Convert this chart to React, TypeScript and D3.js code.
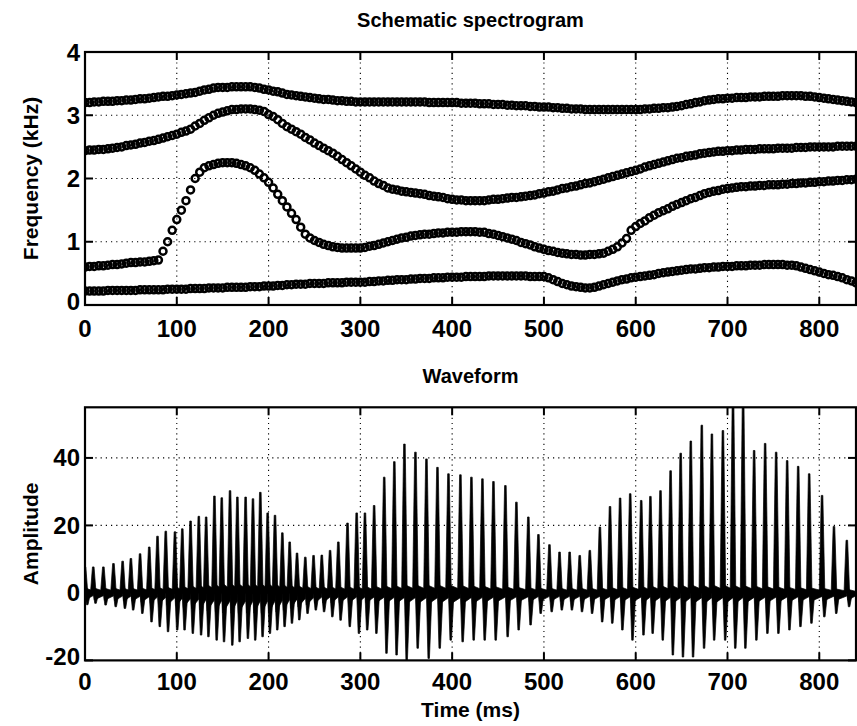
import React from "react";
import * as d3 from "d3";

// ---------- Spectrogram formant tracks (kHz), one frame every 5 ms from 0 to 840 ms ----------
const FRAME_MS = 5;
const F1 = [
  0.22,0.22,0.22,0.22,0.22,0.23,0.23,0.23,0.23,0.23,
  0.23,0.23,0.24,0.24,0.24,0.24,0.24,0.24,0.25,0.25,
  0.25,0.25,0.25,0.26,0.26,0.26,0.26,0.27,0.27,0.27,
  0.27,0.28,0.28,0.28,0.28,0.28,0.29,0.29,0.29,0.30,
  0.30,0.30,0.31,0.31,0.32,0.32,0.33,0.33,0.33,0.34,
  0.34,0.34,0.34,0.35,0.35,0.35,0.35,0.36,0.36,0.36,
  0.36,0.36,0.37,0.37,0.38,0.38,0.39,0.39,0.40,0.40,
  0.40,0.41,0.41,0.42,0.42,0.42,0.43,0.43,0.43,0.44,
  0.44,0.44,0.44,0.45,0.45,0.45,0.45,0.45,0.46,0.46,
  0.46,0.46,0.46,0.46,0.46,0.46,0.46,0.45,0.45,0.45,
  0.45,0.43,0.40,0.37,0.34,0.32,0.30,0.29,0.28,0.27,
  0.27,0.28,0.30,0.32,0.34,0.36,0.38,0.40,0.41,0.43,
  0.44,0.45,0.46,0.47,0.48,0.50,0.51,0.52,0.53,0.54,
  0.55,0.56,0.57,0.57,0.58,0.59,0.59,0.60,0.60,0.61,
  0.61,0.61,0.62,0.62,0.62,0.63,0.63,0.63,0.64,0.64,
  0.64,0.64,0.64,0.63,0.63,0.62,0.60,0.58,0.56,0.54,
  0.52,0.50,0.48,0.47,0.45,0.43,0.40,0.38,0.35,
];
const F2 = [
  0.60,0.61,0.61,0.62,0.62,0.63,0.64,0.64,0.65,0.66,
  0.67,0.67,0.68,0.68,0.69,0.70,0.71,0.85,1.00,1.18,
  1.35,1.50,1.65,1.82,2.00,2.10,2.17,2.20,2.22,2.24,
  2.25,2.25,2.25,2.24,2.22,2.20,2.17,2.13,2.07,2.01,
  1.94,1.85,1.75,1.65,1.55,1.45,1.35,1.23,1.12,1.06,
  1.02,0.99,0.96,0.94,0.92,0.91,0.90,0.90,0.90,0.90,
  0.90,0.91,0.93,0.94,0.96,0.98,1.00,1.02,1.04,1.06,
  1.07,1.09,1.10,1.11,1.12,1.12,1.13,1.14,1.14,1.15,
  1.15,1.15,1.16,1.16,1.16,1.16,1.15,1.15,1.13,1.12,
  1.10,1.08,1.06,1.04,1.02,0.99,0.97,0.95,0.92,0.90,
  0.88,0.86,0.85,0.83,0.82,0.81,0.80,0.80,0.79,0.79,
  0.80,0.80,0.81,0.82,0.85,0.88,0.92,0.98,1.05,1.18,
  1.24,1.29,1.33,1.38,1.42,1.46,1.49,1.52,1.56,1.59,
  1.62,1.65,1.68,1.70,1.73,1.76,1.78,1.80,1.81,1.83,
  1.84,1.85,1.86,1.87,1.87,1.88,1.88,1.89,1.89,1.90,
  1.90,1.90,1.91,1.91,1.92,1.92,1.93,1.93,1.94,1.94,
  1.95,1.95,1.96,1.96,1.97,1.97,1.98,1.98,1.99,
];
const F3 = [
  2.44,2.45,2.45,2.46,2.46,2.47,2.48,2.49,2.50,2.52,
  2.53,2.54,2.56,2.57,2.59,2.60,2.62,2.64,2.66,2.68,
  2.70,2.73,2.75,2.78,2.83,2.87,2.92,2.96,3.00,3.03,
  3.05,3.07,3.09,3.09,3.10,3.10,3.10,3.09,3.08,3.06,
  3.01,2.98,2.93,2.87,2.82,2.78,2.74,2.70,2.65,2.61,
  2.56,2.52,2.48,2.44,2.40,2.35,2.30,2.25,2.20,2.15,
  2.10,2.05,2.01,1.96,1.92,1.89,1.85,1.83,1.82,1.80,
  1.79,1.78,1.77,1.76,1.75,1.73,1.72,1.71,1.70,1.68,
  1.67,1.66,1.66,1.65,1.65,1.65,1.65,1.65,1.66,1.67,
  1.67,1.68,1.69,1.70,1.70,1.71,1.72,1.73,1.74,1.76,
  1.77,1.79,1.80,1.82,1.84,1.85,1.87,1.88,1.90,1.92,
  1.93,1.95,1.97,1.99,2.01,2.03,2.05,2.07,2.09,2.11,
  2.13,2.15,2.18,2.20,2.22,2.24,2.26,2.28,2.30,2.32,
  2.33,2.35,2.36,2.37,2.39,2.40,2.41,2.42,2.43,2.43,
  2.44,2.44,2.45,2.45,2.46,2.46,2.46,2.47,2.47,2.47,
  2.47,2.48,2.48,2.48,2.48,2.49,2.49,2.49,2.50,2.50,
  2.50,2.50,2.50,2.50,2.51,2.51,2.51,2.51,2.51,
];
const F4 = [
  3.20,3.20,3.21,3.21,3.22,3.22,3.22,3.23,3.23,3.24,
  3.24,3.25,3.26,3.26,3.27,3.28,3.29,3.30,3.30,3.31,
  3.32,3.33,3.34,3.35,3.36,3.38,3.40,3.41,3.43,3.44,
  3.44,3.44,3.45,3.45,3.45,3.45,3.45,3.44,3.43,3.41,
  3.40,3.38,3.37,3.35,3.33,3.32,3.31,3.30,3.29,3.28,
  3.27,3.26,3.25,3.25,3.24,3.23,3.23,3.22,3.22,3.21,
  3.21,3.21,3.21,3.21,3.21,3.21,3.21,3.21,3.21,3.21,
  3.21,3.21,3.21,3.21,3.21,3.20,3.20,3.20,3.20,3.20,
  3.20,3.20,3.19,3.19,3.19,3.19,3.18,3.18,3.18,3.17,
  3.17,3.17,3.16,3.16,3.15,3.15,3.15,3.14,3.14,3.13,
  3.13,3.13,3.12,3.12,3.11,3.11,3.10,3.10,3.10,3.09,
  3.09,3.09,3.09,3.09,3.09,3.09,3.09,3.09,3.09,3.09,
  3.09,3.09,3.10,3.10,3.11,3.11,3.12,3.12,3.13,3.14,
  3.15,3.17,3.18,3.20,3.21,3.23,3.24,3.25,3.26,3.26,
  3.27,3.27,3.28,3.28,3.28,3.29,3.29,3.29,3.30,3.30,
  3.30,3.30,3.31,3.31,3.31,3.31,3.31,3.30,3.30,3.29,
  3.28,3.27,3.26,3.25,3.24,3.23,3.22,3.21,3.20,
];
const formants = [F1, F2, F3, F4];

// ---------- Waveform: glottal pulses (time ms, positive peak, negative trough) ----------
const pulseTimes = [
  0, 9, 20, 31, 41, 50, 60, 70, 79, 88, 98, 106, 115, 124, 132, 141, 149, 158, 166, 175,
  183, 191, 199, 207, 215, 223, 231, 240, 249, 258, 267, 276, 286, 296, 305, 315, 326, 337, 348, 360,
  372, 384, 396, 409, 421, 433, 445, 458, 470, 483, 494, 506, 517, 528, 539, 550, 561, 572, 583, 594,
  606, 616, 627, 638, 649, 660, 672, 683, 695, 706, 717, 729, 741, 753, 765, 777, 789, 803, 816, 830,
];
const pulsePeaks = [
  7.7, 7.7, 7.7, 8.7, 9.4, 10.2, 11.6, 13.6, 16.8, 18.3, 18.1, 19.0, 21.3, 22.7, 22.5, 28.7, 28.2, 30.3, 28.4, 28.4,
  27.9, 29.8, 23.7, 23.0, 17.8, 15.1, 11.8, 10.6, 11.1, 11.2, 12.6, 15.1, 20.7, 23.7, 23.7, 25.9, 34.3, 38.9, 44.1, 41.7,
  39.7, 37.2, 35.3, 35.0, 34.3, 33.8, 33.0, 31.8, 26.9, 22.5, 17.3, 14.3, 12.1, 12.1, 11.1, 12.6, 19.5, 25.6, 28.1, 29.4,
  27.4, 28.6, 30.3, 36.2, 41.4, 45.0, 49.7, 47.1, 48.1, 58.0, 58.0, 42.2, 44.3, 41.7, 39.2, 37.5, 35.3, 28.9, 19.7, 15.6,
];
const pulseTroughs = [
  -3.5, -3.1, -3.6, -4.1, -4.6, -5.1, -6.1, -8.6, -10, -11.5, -11, -11, -12, -12.5, -13, -14, -14.5, -15.5, -14.5, -13.5,
  -14, -13, -12, -11, -10, -9, -8, -6.1, -5.1, -5.6, -7.1, -8.1, -10, -12, -11, -12, -17.9, -18.4, -20, -16.4,
  -19.4, -16.4, -14, -14.5, -14, -14, -14, -13, -11, -9.5, -6.1, -5.6, -5.1, -5.1, -5.6, -6.1, -8.6, -9, -11, -14,
  -12.5, -12, -14, -18.4, -19, -19, -16.4, -14, -14, -16.4, -16.4, -14, -12, -12, -11, -10, -9, -7.1, -6.1, -4.1,
];
// envelope of the dense ringing between pulses
const envTimes = [0, 50, 100, 150, 200, 250, 300, 350, 400, 450, 500, 550, 600, 650, 700, 750, 800, 840];
const envTop = [1.5, 1.5, 2, 3, 3, 2, 2, 2.5, 2.5, 2, 1.5, 1.5, 2, 2.5, 2.5, 2, 1.5, 1];
const envBottom = [-2, -2.5, -4, -6, -6, -3, -3, -3.5, -3.5, -3, -2.5, -2.5, -3, -3.5, -3.5, -3, -2.5, -2];

// ---------- Axes ----------
const timeTicks = [0, 100, 200, 300, 400, 500, 600, 700, 800];
const freqTicks = [0, 1, 2, 3, 4];
const ampTicks = [-20, 0, 20, 40];
const TIME_MAX = 840;

const FONT = "'Liberation Sans', Arial, Helvetica, sans-serif";

export default function App() {
  const W = 857;
  const H = 726;
  const L = 85;
  const R = 856;

  const x = d3.scaleLinear().domain([0, TIME_MAX]).range([L, R]);
  const topT = 52, topB = 305;
  const botT = 407.3, botB = 660.4;
  const yF = d3.scaleLinear().domain([0, 4]).range([topB, topT]);
  const yA = d3.scaleLinear().domain([-20, 55]).range([botB, botT]);

  const envTopAt = d3.scaleLinear().domain(envTimes).range(envTop);
  const envBotAt = d3.scaleLinear().domain(envTimes).range(envBottom);

  const tickLen = 8;
  const grid = "1.2,4";

  const axesFrame = (yTop: number, yBot: number, yScale: any, yTicks: number[]) => (
    <g>
      {timeTicks.filter((t) => t > 0).map((t) => (
        <line key={"gx" + t} x1={x(t)} x2={x(t)} y1={yTop} y2={yBot} stroke="#000" strokeWidth={1.1} strokeDasharray={grid} />
      ))}
      {yTicks.map((v) => (
        <line key={"gy" + v} x1={L} x2={R} y1={yScale(v)} y2={yScale(v)} stroke="#000" strokeWidth={1.1} strokeDasharray={grid} />
      ))}
    </g>
  );

  const axesBox = (yTop: number, yBot: number, yScale: any, yTicks: number[]) => (
    <g>
      <rect x={L} y={yTop} width={R - L} height={yBot - yTop} fill="none" stroke="#000" strokeWidth={2.2} />
      {timeTicks.map((t) => (
        <g key={"tx" + t}>
          <line x1={x(t)} x2={x(t)} y1={yBot} y2={yBot - tickLen} stroke="#000" strokeWidth={2} />
          <line x1={x(t)} x2={x(t)} y1={yTop} y2={yTop + tickLen} stroke="#000" strokeWidth={2} />
        </g>
      ))}
      {yTicks.map((v) => (
        <g key={"ty" + v}>
          <line x1={L} x2={L + tickLen} y1={yScale(v)} y2={yScale(v)} stroke="#000" strokeWidth={2} />
          <line x1={R} x2={R - tickLen} y1={yScale(v)} y2={yScale(v)} stroke="#000" strokeWidth={2} />
        </g>
      ))}
    </g>
  );

  const tickLabels = (yBot: number, yScale: any, yTicks: number[], xLabelY: number) => (
    <g fontFamily={FONT} fontWeight="bold" fontSize={24} fill="#000">
      {timeTicks.map((t) => (
        <text key={"lx" + t} x={x(t)} y={xLabelY} textAnchor="middle">
          {t}
        </text>
      ))}
      {yTicks.map((v) => (
        <text key={"ly" + v} x={L - 5} y={Math.min(yScale(v), yBot - 4)} textAnchor="end" dominantBaseline="central">
          {v}
        </text>
      ))}
    </g>
  );

  // waveform glyphs
  const zero = yA(0);
  const pts = (arr: number[][]) => arr.map((p) => p.join(",")).join(" ");
  const pulsePolys: string[] = [];
  pulseTimes.forEach((t0, i) => {
    const t1 = i < pulseTimes.length - 1 ? pulseTimes[i + 1] : Math.min(TIME_MAX, t0 + 11);
    const px0 = x(t0);
    const px1 = x(t1);
    const top = envTopAt(t0);
    const bot = envBotAt(t0);
    // ringing body (decays to the next pulse)
    pulsePolys.push(pts([[px0, yA(top)], [px1, yA(top * 0.4)], [px1, yA(bot * 0.4)], [px0 + 1, yA(bot)]]));
    // positive spike
    pulsePolys.push(pts([[px0 - 2.8, zero], [px0 - 0.8, yA(pulsePeaks[i])], [px0 + 0.8, yA(pulsePeaks[i])], [px0 + 2.8, zero]]));
    // negative spike
    pulsePolys.push(pts([[px0, zero], [px0 + 1.5, yA(pulseTroughs[i])], [px0 + 3, yA(pulseTroughs[i])], [px0 + 5.5, zero]]));
  });

  return (
    <svg
      width={W}
      height={H}
      viewBox={`0 0 ${W} ${H}`}
      style={{ position: "absolute", left: 0, top: 0, background: "#fff" }}
    >
      <defs>
        <clipPath id="clipTop">
          <rect x={L} y={topT} width={R - L} height={topB - topT} />
        </clipPath>
        <clipPath id="clipBot">
          <rect x={L} y={botT} width={R - L} height={botB - botT} />
        </clipPath>
      </defs>
      <rect x={0} y={0} width={W} height={H} fill="#fff" />

      {/* ---------- Top: schematic spectrogram ---------- */}
      {axesFrame(topT, topB, yF, [1, 2, 3])}
      <g clipPath="url(#clipTop)">
        {formants.map((track, k) => (
          <g key={"f" + k}>
            {track.map((f, i) => (
              <circle key={i} cx={x(i * FRAME_MS)} cy={yF(f)} r={3.5} fill="none" stroke="#000" strokeWidth={2.5} />
            ))}
          </g>
        ))}
      </g>
      {axesBox(topT, topB, yF, freqTicks)}
      {tickLabels(topB, yF, freqTicks, 337)}
      <text x={(L + R) / 2} y={27} textAnchor="middle" fontFamily={FONT} fontWeight="bold" fontSize={20}>
        Schematic spectrogram
      </text>
      <text
        transform={`translate(38, ${(topT + topB) / 2}) rotate(-90)`}
        textAnchor="middle"
        fontFamily={FONT}
        fontWeight="bold"
        fontSize={21}
      >
        Frequency (kHz)
      </text>

      {/* ---------- Bottom: waveform ---------- */}
      {axesFrame(botT, botB, yA, [0, 20, 40])}
      <g clipPath="url(#clipBot)">
        {pulsePolys.map((p, i) => (
          <polygon key={i} points={p} fill="#000" stroke="#000" strokeWidth={0.7} />
        ))}
      </g>
      {axesBox(botT, botB, yA, ampTicks)}
      {tickLabels(botB, yA, ampTicks, 690)}
      <text x={(L + R) / 2} y={383} textAnchor="middle" fontFamily={FONT} fontWeight="bold" fontSize={20}>
        Waveform
      </text>
      <text
        transform={`translate(38, ${(botT + botB) / 2}) rotate(-90)`}
        textAnchor="middle"
        fontFamily={FONT}
        fontWeight="bold"
        fontSize={21}
      >
        Amplitude
      </text>
      <text x={(L + R) / 2} y={717} textAnchor="middle" fontFamily={FONT} fontWeight="bold" fontSize={21}>
        Time (ms)
      </text>
    </svg>
  );
}
